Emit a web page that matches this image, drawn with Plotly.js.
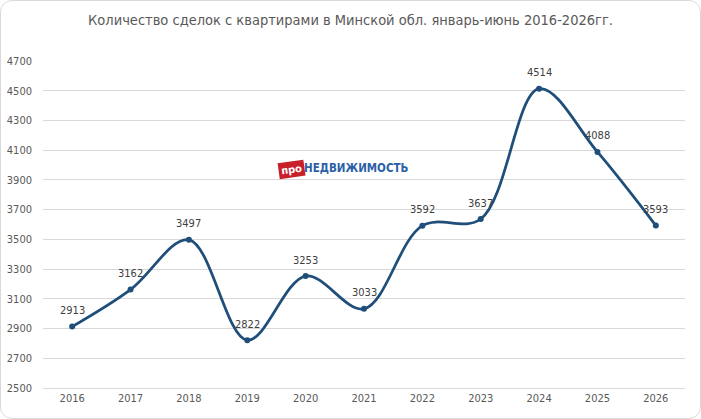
<!DOCTYPE html>
<html>
<head>
<meta charset="utf-8">
<script src="https://cdn.plot.ly/plotly-3.0.1.min.js"></script>
<style>
body{margin:0;padding:0;background:#fff;}
#wrap{position:relative;width:701px;height:419px;}
#chart{position:absolute;left:0;top:0;width:701px;height:419px;}
#frame{position:absolute;left:0;top:0;width:701px;height:419px;box-sizing:border-box;border:1px solid #d9d9d9;border-radius:12px;pointer-events:none;}
</style>
</head>
<body>
<div id="wrap"><div id="chart"></div><div id="frame"></div></div>
<script>
const years = ["2016","2017","2018","2019","2020","2021","2022","2023","2024","2025","2026"];
const deals = [2913, 3162, 3497, 2822, 3253, 3033, 3592, 3637, 4514, 4088, 3593];
const yTicks = [2500, 2700, 2900, 3100, 3300, 3500, 3700, 3900, 4100, 4300, 4500, 4700];
const titleText = "Количество сделок с квартирами в Минской обл. январь-июнь 2016-2026гг.";

const font = "DejaVu Sans Condensed, Arial, sans-serif";
const lineColor = "#1f4e7a";

const trace = {
  x: years,
  y: deals,
  type: "scatter",
  mode: "lines+markers",
  line: {color: lineColor, width: 2.75, shape: "spline", smoothing: 1},
  marker: {color: lineColor, size: 6},
  cliponaxis: false,
  hoverinfo: "none"
};

const valueLabels = years.map((yr, i) => ({
  x: i, y: deals[i], xref: "x", yref: "y",
  text: String(deals[i]), showarrow: false,
  yshift: 16, xanchor: "center", yanchor: "middle",
  font: {family: font, size: 11, color: "#404040"}
}));

const logo = [
  {
    xref: "paper", yref: "paper",
    x: (291 - 43) / 642, y: (388 - 169) / 327,
    text: "<b>про</b>", showarrow: false,
    font: {family: "DejaVu Sans, sans-serif", size: 10, color: "#ffffff"},
    bgcolor: "#c8202a", borderpad: 2, textangle: -8,
    xanchor: "center", yanchor: "middle"
  },
  {
    xref: "paper", yref: "paper",
    x: (302 - 43) / 642, y: (388 - 168) / 327,
    text: "<b>НЕДВИЖИМОСТЬ</b>", showarrow: false,
    font: {family: "DejaVu Sans Condensed, sans-serif", size: 11.5, color: "#2b5fa6"},
    xanchor: "left", yanchor: "middle"
  }
];

const layout = {
  width: 701,
  height: 419,
  margin: {l: 43, r: 16, t: 61, b: 31},
  paper_bgcolor: "rgba(0,0,0,0)",
  plot_bgcolor: "#fff",
  showlegend: false,
  title: {
    text: titleText,
    font: {family: font, size: 14.5, color: "#595959"},
    x: 0.5, xanchor: "center", y: 0.952, yanchor: "middle", automargin: false
  },
  xaxis: {
    type: "category",
    range: [-0.5, years.length - 0.5],
    tickvals: years,
    ticktext: years,
    showgrid: false,
    showline: true,
    linecolor: "#d9d9d9",
    ticks: "",
    automargin: false,
    tickfont: {family: font, size: 11, color: "#595959"},
    fixedrange: true
  },
  yaxis: {
    range: [2500, 4700],
    tickvals: yTicks,
    ticktext: yTicks.map(String),
    showgrid: true,
    gridcolor: "#d9d9d9",
    gridwidth: 1,
    zeroline: false,
    showline: false,
    ticks: "",
    automargin: false,
    ticklabelstandoff: 10,
    tickfont: {family: font, size: 11, color: "#595959"},
    fixedrange: true
  },
  annotations: logo.concat(valueLabels)
};

Plotly.newPlot("chart", [trace], layout, {displayModeBar: false, staticPlot: true});
</script>
</body>
</html>
